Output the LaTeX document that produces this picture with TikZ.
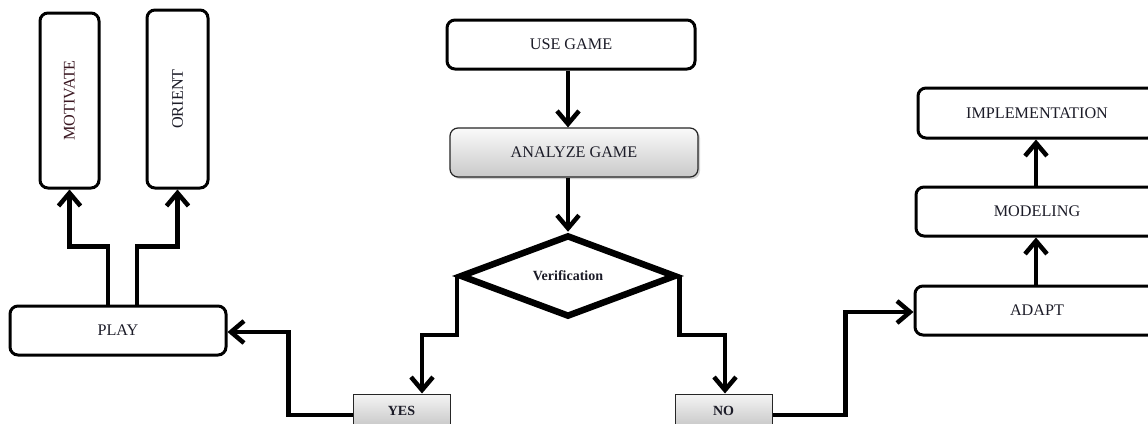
\documentclass[tikz,border=0pt]{standalone}
\usepackage{fontspec}
\setmainfont{Liberation Serif}
\usetikzlibrary{arrows.meta,shapes.geometric,shadows}
\definecolor{txt}{RGB}{28,28,40}
\definecolor{mottxt}{RGB}{60,25,35}
\begin{document}
\begin{tikzpicture}[x=1pt,y=-1pt,
  box/.style={draw=black,line width=3pt,rounded corners=8pt,fill=white,
    text=txt,font=\fontsize{16.2}{16}\selectfont,inner sep=0pt},
  greybox/.style={draw=black!85,line width=1.2pt,top color=gray!4,bottom color=gray!42,
    text=txt,font=\fontsize{16.2}{16}\selectfont,inner sep=0pt},
  answer/.style={draw=black!85,line width=1pt,top color=gray!8,bottom color=gray!45,
    text=txt,font=\bfseries\fontsize{14}{14}\selectfont,inner sep=0pt},
  decision/.style={diamond,draw=black,line width=6.5pt,fill=white,inner sep=0pt,
    text=txt,font=\bfseries\fontsize{14}{14}\selectfont},
  conn/.style={line width=4.5pt,-{Straight Barb[length=13pt,width=22pt]}}
]
\useasboundingbox (0,0) rectangle (1148,423);
\clip (0,0) rectangle (1148,423);
\fill[white] (0,0) rectangle (1148,423);

% left column
\node[box,minimum width=59pt,minimum height=175pt,text=mottxt] (mot) at (69.5,100.5) {\rotatebox{90}{MOTIVATE}};
\node[box,minimum width=61pt,minimum height=178pt] (ori) at (177.5,99) {\rotatebox{90}{ORIENT}};
\node[box,minimum width=216pt,minimum height=49pt] (play) at (118,330.5) {PLAY};

% centre column
\node[box,minimum width=248pt,minimum height=49pt] (use) at (571,44.5) {USE GAME};
\node[greybox,rounded corners=8pt,minimum width=248pt,minimum height=49pt,
  drop shadow={shadow xshift=2pt,shadow yshift=-2pt,opacity=0.35}] (ana) at (574,152.5) {ANALYZE GAME};
\node[decision,minimum width=216pt,minimum height=82pt] (ver) at (568,276) {Verification};
\node[answer,minimum width=97pt,minimum height=34pt] (yes) at (401.5,411) {YES};
\node[answer,minimum width=97pt,minimum height=34pt] (no) at (723.5,411) {NO};

% right column
\node[box,minimum width=238pt,minimum height=50pt] (impl) at (1037,113) {IMPLEMENTATION};
\node[box,minimum width=242pt,minimum height=49pt] (mod) at (1037,211.5) {MODELING};
\node[box,minimum width=244pt,minimum height=49pt] (adapt) at (1037,310.5) {ADAPT};

% connectors
\draw[conn] ([xshift=-3pt]use.south) -- ([xshift=-3pt]use.south |- ana.north);
\draw[conn] (ver.north |- ana.south) -- (ver.north);
\draw[conn] (ver.west) -- ++(0,59) -| ([xshift=20.5pt]yes.north);
\draw[conn] (ver.east) -- ++(0,59) -| ([xshift=1.5pt]no.north);
\draw[conn] ([yshift=-4pt]yes.west) -- ++(-64,0) |- ([yshift=-1.5pt]play.east);
\draw[conn] ([yshift=-4pt]no.east) -- ++(73,0) |- ([yshift=-1.5pt]adapt.west);
\draw[conn] ([xshift=-1pt]adapt.north) -- ([xshift=-1pt]mod.south);
\draw[conn] ([xshift=-1pt]mod.north) -- ([xshift=-1pt]impl.south);
\draw[conn] ([xshift=-10pt]play.north) -- ++(0,-58) -| (mot.south);
\draw[conn] ([xshift=19pt]play.north) -- ++(0,-58) -| (ori.south);
\end{tikzpicture}
\end{document}
